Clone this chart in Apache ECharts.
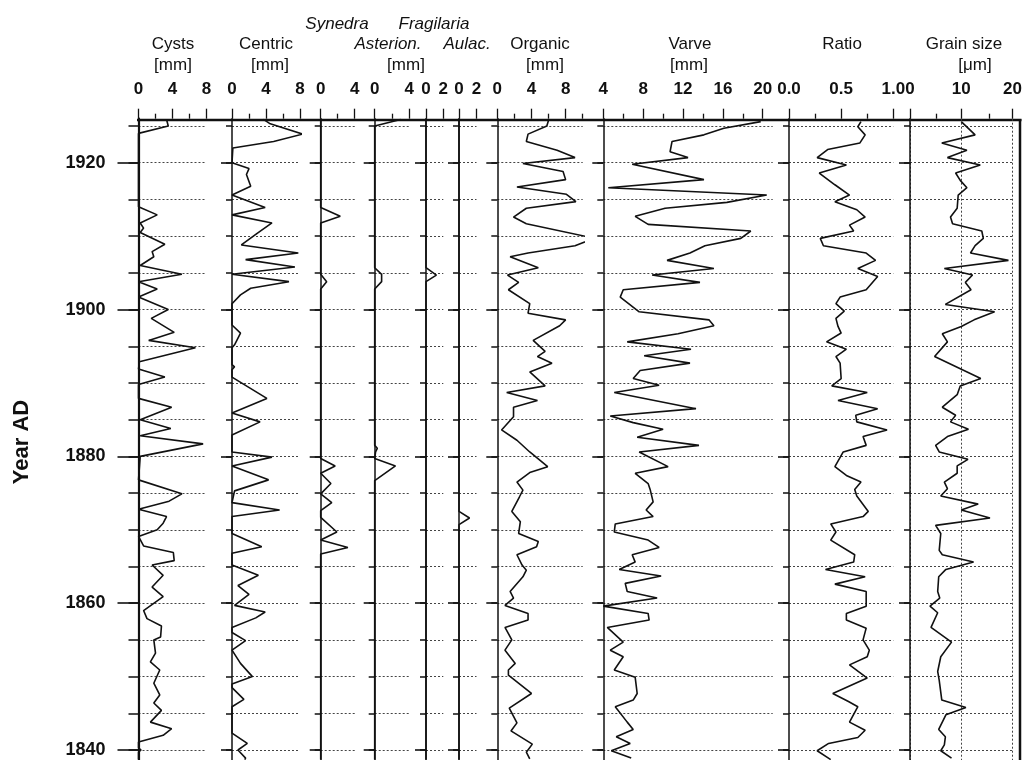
<!DOCTYPE html>
<html>
<head>
<meta charset="utf-8">
<script src="https://cdn.jsdelivr.net/npm/echarts@6/dist/echarts.min.js"></script>
<style>
  html, body { margin: 0; padding: 0; background: #fff; }
  #chart { width: 1025px; height: 760px; }
</style>
</head>
<body>
<div id="chart"></div>
<script>
// Each record: [year AD, value]
const cysts = [[1925.9,3.3],[1925,3.5],[1924,0],[1914,0],[1912.9,2.2],[1911.8,0.2],[1911.1,0.6],[1910.5,0.2],[1908.9,3.1],[1907.9,1.6],[1907.2,1.8],[1906,0.2],[1904.8,5.1],[1903.8,0],[1902.8,2.2],[1901.7,0],[1900,3.5],[1898.8,1.5],[1896.9,4.2],[1895.8,1.2],[1894.8,6.7],[1892.9,0.1],[1891.9,0],[1890.8,3.1],[1889.8,0],[1887.9,0],[1886.7,3.9],[1885,0.2],[1883.8,3.8],[1882.8,0.2],[1881.7,7.6],[1880,0.2],[1876.8,0],[1874.9,5.1],[1873.9,3.6],[1872.8,0],[1871.8,3.3],[1870.9,2.9],[1870,2.2],[1869.1,0],[1867.8,0.6],[1866.9,4.1],[1865.8,4.2],[1865.2,1.6],[1863.8,2.9],[1862.2,1.6],[1860.9,2.9],[1859,0.6],[1857.9,1.0],[1856.9,2.7],[1855.4,2.6],[1855,1.8],[1853.2,2.0],[1852,1.4],[1850.9,2.5],[1849.1,1.8],[1847.5,2.5],[1846.4,1.8],[1845.4,2.7],[1843.8,1.4],[1842.9,3.9],[1842,2.9],[1841.1,0],[1840.3,0],[1840,0.3],[1839.7,0],[1838.7,0]];

const centric = [[1925.9,3.7],[1925.3,4.5],[1923.9,8.3],[1922.9,4.9],[1922,0.1],[1920,0],[1919.2,2.0],[1918.4,1.7],[1916.8,2.2],[1915.6,0],[1913.9,3.9],[1912.9,0],[1911.8,4.7],[1910.4,3.0],[1908.8,1.1],[1907.7,7.8],[1906.8,1.6],[1905.8,7.4],[1904.8,0],[1903.8,6.7],[1902.9,2.2],[1902,1.0],[1900.8,0],[1897.9,0],[1896.8,1.0],[1895.2,0.3],[1894.8,0],[1892.5,0],[1892.2,0.3],[1891.8,0],[1890.8,0],[1887.9,4.1],[1885.9,0],[1884.7,3.3],[1882.9,0],[1880.6,0],[1879.9,4.7],[1878.7,0],[1876.8,4.3],[1875.3,0.3],[1873.7,0],[1872.7,5.6],[1871.8,0],[1869.5,0],[1867.7,3.5],[1866.8,0],[1865.2,0],[1863.8,3.1],[1862.4,0.7],[1861.2,2.0],[1859.7,0.3],[1858.8,3.9],[1858,2.8],[1856.7,0],[1856,0],[1854.9,1.6],[1853.6,0],[1851.8,1.0],[1850,2.4],[1849,0],[1848.5,0],[1846.9,1.4],[1845.9,0],[1842.3,0],[1840.9,1.8],[1840,0.7],[1838.9,1.6],[1838.7,1.5]];

const synedra = [[1926,0],[1913.9,0],[1912.7,2.3],[1911.8,0],[1904.8,0],[1903.8,0.7],[1902.8,0],[1879.7,0],[1878.7,1.7],[1877.7,0],[1876.3,1.2],[1874.9,0],[1873.7,1.3],[1872.6,0],[1871.7,0],[1869.7,1.9],[1868.6,0],[1867.6,3.2],[1866.7,0],[1838.7,0]];

const asterion = [[1925.9,3.0],[1925,0],[1905.7,0],[1904.8,0.8],[1903.8,0.8],[1902.8,0],[1881.5,0],[1881.1,0.3],[1880.6,0.1],[1879.7,0],[1878.7,2.4],[1876.7,0],[1838.7,0]];

const fragilaria = [[1926,0],[1905.7,0],[1904.7,1.2],[1903.8,0],[1838.7,0]];

const aulac = [[1926,0],[1872.5,0],[1871.6,1.2],[1870.7,0],[1838.7,0]];

const organic = [[1925.8,6.0],[1925,5.8],[1923.9,3.6],[1922.9,3.4],[1921.7,7.0],[1920.7,9.1],[1919.9,3.0],[1918.8,7.7],[1917.7,8.0],[1916.7,2.3],[1915.7,8.1],[1914.7,9.2],[1913.8,3.4],[1912.6,1.9],[1911.7,3.4],[1909.7,11.4],[1908.7,9.1],[1907.7,3.6],[1907.2,1.5],[1905.7,4.8],[1904.7,1.2],[1903.7,2.5],[1902.7,1.3],[1900.8,3.8],[1899.5,3.6],[1898.6,8.0],[1897.8,7.3],[1895.8,4.2],[1894.3,5.6],[1893.6,4.7],[1892.7,6.4],[1891.5,3.8],[1889.6,5.6],[1888.7,1.1],[1887.6,4.7],[1886.7,1.9],[1885.4,1.9],[1883.6,0.5],[1882.2,2.3],[1880.6,3.8],[1878.6,5.9],[1877.8,3.8],[1876.5,2.3],[1875.4,3.0],[1874.5,2.6],[1872.5,1.7],[1871.1,2.7],[1869.5,2.5],[1868.4,4.8],[1867.7,4.6],[1866.6,2.3],[1865.2,2.9],[1864.5,3.4],[1863.6,3.0],[1861.6,1.5],[1860.7,1.9],[1859.7,0.9],[1858.6,3.6],[1857.7,3.6],[1856.7,0.9],[1855,1.7],[1853.6,0.9],[1851.8,2.1],[1850.9,1.3],[1850.2,1.3],[1847.7,4.0],[1845.7,1.4],[1843.7,2.3],[1842.6,1.6],[1840.8,4.1],[1839.7,3.4],[1838.8,3.8]];

const varve = [[1925.6,19.8],[1924.7,16.1],[1923.8,14.1],[1922.9,10.9],[1921.5,10.7],[1920.7,12.5],[1919.8,6.9],[1917.7,14.1],[1916.6,4.5],[1915.6,20.4],[1914.6,16.4],[1913.8,10.2],[1912.7,7.2],[1911.6,8.5],[1910.7,18.8],[1909.7,17.8],[1908.7,14.2],[1907.7,12.7],[1906.7,10.4],[1905.6,15.1],[1904.7,8.9],[1903.7,13.7],[1902.7,6.0],[1901.7,5.7],[1899.7,7.6],[1898.6,14.6],[1897.8,15.1],[1896.7,11.5],[1895.6,6.4],[1894.6,12.8],[1893.7,8.1],[1892.7,12.7],[1891.7,7.7],[1890.6,7.0],[1889.7,9.6],[1888.7,5.1],[1886.5,13.3],[1885.5,4.7],[1884.6,7.0],[1883.7,10.0],[1882.6,7.4],[1881.5,13.6],[1880.6,7.6],[1878.6,10.5],[1877.7,7.2],[1876.3,8.5],[1875.5,8.7],[1873.8,9.0],[1872.7,8.3],[1871.8,9.0],[1870.8,5.2],[1869.7,5.1],[1868.6,8.5],[1867.6,9.6],[1866.6,6.9],[1865.6,7.2],[1864.6,5.6],[1863.7,9.8],[1862.7,6.2],[1861.6,6.4],[1860.7,9.4],[1859.6,4.0],[1858.6,8.5],[1857.7,8.6],[1856.7,4.4],[1854.7,6.0],[1853.6,4.7],[1852.7,6.0],[1850.9,5.1],[1849.9,7.2],[1847.7,7.4],[1846.8,7.0],[1845.9,5.2],[1843.8,6.4],[1842.8,7.0],[1841.8,5.3],[1840.9,6.7],[1839.9,4.8],[1838.9,6.8]];

const ratio = [[1925.6,0.69],[1924.9,0.66],[1923.8,0.73],[1922.7,0.68],[1921.8,0.37],[1920.7,0.27],[1919.7,0.55],[1918.6,0.29],[1917,0.44],[1915.6,0.58],[1914.7,0.44],[1913.6,0.65],[1912.6,0.73],[1911.5,0.58],[1910.7,0.62],[1909.7,0.30],[1908.7,0.33],[1907.7,0.74],[1906.7,0.83],[1905.6,0.66],[1904.5,0.85],[1902.7,0.74],[1901.7,0.49],[1900.8,0.45],[1899.8,0.53],[1898.8,0.45],[1897.7,0.47],[1896.8,0.50],[1895.6,0.36],[1894.6,0.55],[1893.6,0.45],[1892.7,0.49],[1890.6,0.50],[1889.6,0.41],[1888.7,0.75],[1887.6,0.47],[1886.5,0.85],[1885.6,0.64],[1884.7,0.65],[1883.6,0.94],[1882.7,0.71],[1881.5,0.74],[1880.6,0.52],[1878.6,0.44],[1877.4,0.55],[1876.5,0.69],[1875.5,0.63],[1874.6,0.65],[1872.5,0.76],[1871.8,0.71],[1870.8,0.40],[1869.7,0.45],[1868.6,0.40],[1866.6,0.63],[1865.6,0.62],[1864.6,0.35],[1863.6,0.73],[1862.6,0.44],[1861.6,0.74],[1859.6,0.74],[1858.6,0.55],[1857.7,0.55],[1856.6,0.74],[1855,0.71],[1853.6,0.77],[1852.7,0.75],[1851.6,0.58],[1849.8,0.75],[1847.7,0.42],[1846.6,0.57],[1845.9,0.66],[1843.8,0.58],[1842.7,0.73],[1841.7,0.66],[1840.9,0.38],[1839.9,0.27],[1838.7,0.40]];

const grainSize = [[1925.6,10.0],[1923.8,12.7],[1922.7,6.2],[1921.7,11.1],[1920.7,7.3],[1919.7,13.7],[1918.6,8.9],[1917.6,9.8],[1916.6,11.1],[1915.6,9.4],[1913.8,9.2],[1912.6,7.9],[1911.7,8.3],[1910.7,14.0],[1909.7,14.3],[1908.7,12.7],[1907.7,11.8],[1906.7,19.2],[1905.6,6.7],[1904.7,12.2],[1903.7,10.8],[1902.7,11.9],[1900.7,6.9],[1899.7,16.5],[1898.6,12.5],[1897.7,10.0],[1896.7,6.3],[1895.6,7.3],[1893.6,4.8],[1890.6,13.8],[1889.6,9.8],[1888.4,9.2],[1886.7,6.3],[1885.6,8.9],[1884.7,7.9],[1883.7,11.4],[1882.7,7.3],[1881.5,5.0],[1880.6,5.7],[1879.6,11.3],[1878.7,9.2],[1877.7,9.2],[1876.5,6.7],[1875.6,7.3],[1874.6,6.0],[1873.5,13.3],[1872.7,10.0],[1871.6,15.6],[1870.6,5.0],[1869.5,6.0],[1867.2,5.7],[1866.6,6.3],[1865.6,12.4],[1864.6,7.0],[1863.6,5.6],[1861.6,5.4],[1860.7,5.8],[1859.6,3.9],[1858.7,5.4],[1856.7,4.1],[1854.7,8.1],[1852.7,6.0],[1850.7,5.4],[1849.5,5.7],[1846.8,6.2],[1845.8,10.9],[1844.8,7.0],[1842.8,5.6],[1841.8,6.9],[1840.7,6.7],[1839.9,6.0],[1838.9,8.1]];

// Year axis ticks
const yearLabels = [1840, 1860, 1880, 1900, 1920];
const yearTicks = [1840, 1845, 1850, 1855, 1860, 1865, 1870, 1875, 1880, 1885, 1890, 1895, 1900, 1905, 1910, 1915, 1920, 1925];

// Panel layout: data source, horizontal placement and scale of each track
const panels = [
  { data: cysts,      left: 138.5, width: 68,    min: 0, max: 8,  major: [0, 4, 8],  minor: [2, 6] },
  { data: centric,    left: 232,   width: 68,    min: 0, max: 8,  major: [0, 4, 8],  minor: [2, 6] },
  { data: synedra,    left: 320.7, width: 34,    min: 0, max: 4,  major: [0, 4],     minor: [2] },
  { data: asterion,   left: 374.7, width: 34.6,  min: 0, max: 4,  major: [0, 4],     minor: [2] },
  { data: fragilaria, left: 426,   width: 17.3,  min: 0, max: 2,  major: [0, 2],     minor: [] },
  { data: aulac,      left: 459,   width: 17.5,  min: 0, max: 2,  major: [0, 2],     minor: [] },
  { data: organic,    left: 497.3, width: 85.4,  min: 0, max: 10, major: [0, 4, 8],  minor: [2, 6, 10] },
  { data: varve,      left: 603.3, width: 169.4, min: 4, max: 21, major: [4, 8, 12, 16, 20], minor: [6, 10, 14, 18] },
  { data: ratio,      left: 789,   width: 104.3, min: 0, max: 1,  major: [0, 0.5, 1], minor: [0.25, 0.75], fmt: v => v.toFixed(1) },
  { data: grainSize,  left: 910,   width: 105,   min: 0, max: 20, major: [0, 10, 20], minor: [5, 15], vSplit: true }
];

// vertical scale: 1926 at the top frame, the plot runs off the bottom edge
const Y_MIN = 1838.64, Y_MAX = 1926;
const GRID_TOP = 118.7, GRID_H = 641.3;
const FONT = '"Liberation Sans", Arial, Helvetica, sans-serif';
const INK = '#111';
const dotted = { color: '#444', width: 1, type: [2, 2] };

const grids = [], xAxes = [], yAxes = [], series = [];

panels.forEach((p, i) => {
  const first = i === 0;
  const gm = 2 * i, gt = 2 * i + 1;
  // main grid (curve, gridlines, labelled ticks) and an overlay grid for the second tick set
  grids.push({ left: p.left, top: GRID_TOP, width: p.width, height: GRID_H });
  grids.push({ left: p.left, top: GRID_TOP, width: p.width, height: GRID_H });

  xAxes.push({
    gridIndex: gm, type: 'value', position: 'top', min: p.min, max: p.max,
    axisLine: { show: false, onZero: false },
    axisTick: { show: true, length: 10, customValues: p.major, lineStyle: { color: INK, width: 1.3 } },
    axisLabel: {
      show: true, customValues: p.major, margin: 21,
      formatter: p.fmt || (v => String(v)),
      fontSize: 17, fontWeight: 'bold', color: INK, fontFamily: FONT, hideOverlap: false
    },
    splitLine: { show: !!p.vSplit, lineStyle: dotted }
  });
  xAxes.push({
    gridIndex: gt, type: 'value', position: 'top', min: p.min, max: p.max,
    axisLine: { show: false, onZero: false },
    axisTick: p.minor.length
      ? { show: true, length: 5, customValues: p.minor, lineStyle: { color: INK, width: 1.3 } }
      : { show: false },
    axisLabel: { show: false },
    splitLine: { show: false }
  });

  yAxes.push({
    gridIndex: gm, type: 'value', min: Y_MIN, max: Y_MAX,
    axisLine: { show: true, onZero: false, lineStyle: { color: INK, width: first ? 2.2 : 1.5 } },
    axisTick: { show: true, length: first ? 10 : 6, customValues: yearTicks, lineStyle: { color: INK, width: 1.5 } },
    axisLabel: { show: false },
    splitLine: { show: true, lineStyle: dotted }
  });
  yAxes.push({
    gridIndex: gt, type: 'value', min: Y_MIN, max: Y_MAX,
    axisLine: { show: false, onZero: false },
    axisTick: { show: true, length: first ? 21 : 11, customValues: yearLabels, lineStyle: { color: INK, width: 1.6 } },
    axisLabel: {
      show: first, customValues: yearLabels, margin: 33, formatter: v => String(v),
      fontSize: 18, fontWeight: 'bold', color: INK, fontFamily: FONT
    },
    splitLine: { show: false }
  });

  series.push({
    type: 'line', xAxisIndex: gm, yAxisIndex: gm,
    data: p.data.map(d => [d[1], d[0]]),
    symbol: 'none', clip: false, silent: true, animation: false,
    lineStyle: { color: INK, width: 1.6 }
  });
});

// Track headings
const headings = [
  { text: 'Cysts',      x: 173, y: 44 },
  { text: '[mm]',       x: 173, y: 65 },
  { text: 'Centric',    x: 266, y: 44 },
  { text: '[mm]',       x: 270, y: 65 },
  { text: 'Synedra',    x: 337, y: 24, italic: true },
  { text: 'Fragilaria', x: 434, y: 24, italic: true },
  { text: 'Asterion.',  x: 388, y: 44, italic: true },
  { text: '[mm]',       x: 406, y: 65 },
  { text: 'Aulac.',     x: 467, y: 44, italic: true },
  { text: 'Organic',    x: 540, y: 44 },
  { text: '[mm]',       x: 545, y: 65 },
  { text: 'Varve',      x: 690, y: 44 },
  { text: '[mm]',       x: 689, y: 65 },
  { text: 'Ratio',      x: 842, y: 44 },
  { text: 'Grain size', x: 964, y: 44 },
  { text: '[\u03bcm]',  x: 975, y: 65 }
];

const graphic = headings.map(h => ({
  type: 'text', x: h.x, y: h.y, silent: true,
  style: {
    text: h.text, fill: INK, align: 'center', verticalAlign: 'middle',
    font: (h.italic ? 'italic ' : '') + '17px ' + FONT
  }
}));

graphic.push({
  type: 'text', x: 22, y: 442, rotation: Math.PI / 2, silent: true,
  style: { text: 'Year AD', fill: INK, align: 'center', verticalAlign: 'middle', font: 'bold 22px ' + FONT }
});
// frame: top edge across all tracks and right edge
graphic.push({
  type: 'line', silent: true,
  shape: { x1: 137, y1: 120, x2: 1021.5, y2: 120 },
  style: { stroke: INK, lineWidth: 2.5 }
});
graphic.push({
  type: 'line', silent: true,
  shape: { x1: 1020, y1: 119, x2: 1020, y2: 760 },
  style: { stroke: INK, lineWidth: 2.5 }
});

const chart = echarts.init(document.getElementById('chart'), null, { renderer: 'canvas' });
chart.setOption({
  animation: false,
  backgroundColor: '#fff',
  grid: grids,
  xAxis: xAxes,
  yAxis: yAxes,
  series: series,
  graphic: graphic
});
</script>
</body>
</html>
